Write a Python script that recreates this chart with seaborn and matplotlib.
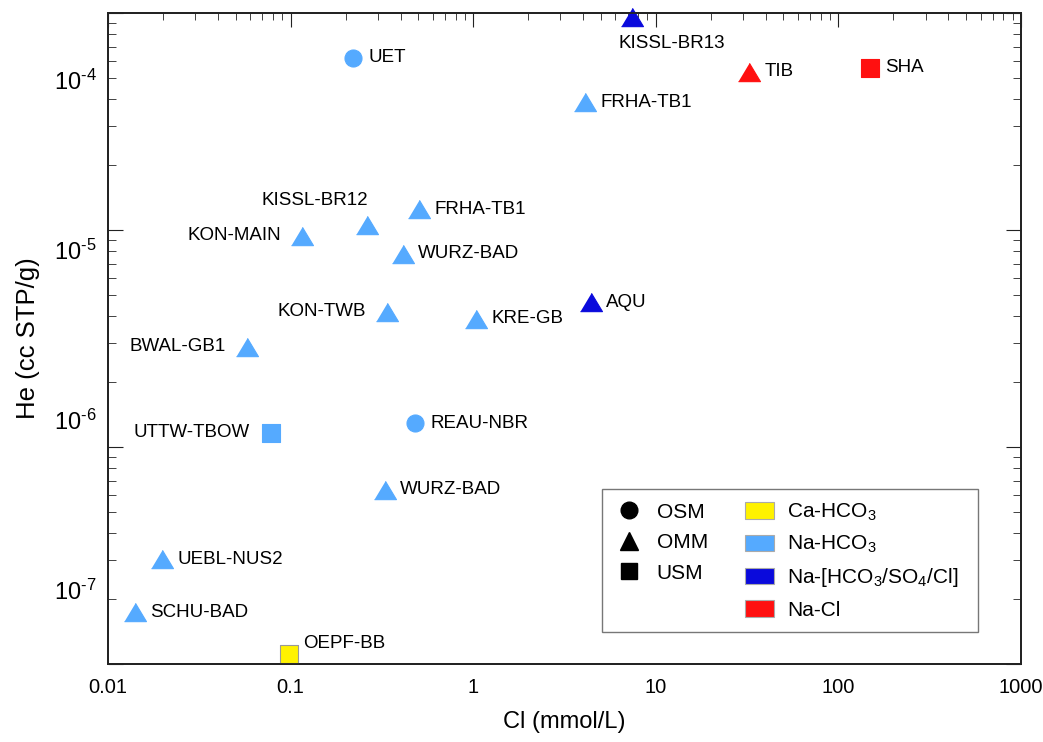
import matplotlib
matplotlib.use("Agg")
import matplotlib.pyplot as plt
import matplotlib.ticker as mticker
from matplotlib.lines import Line2D
from matplotlib.patches import Patch
import pandas as pd
import seaborn as sns

# Data
sites = ["UET", "KISSL-BR13", "TIB", "SHA", "FRHA-TB1", "FRHA-TB1", "KISSL-BR12",
         "KON-MAIN", "WURZ-BAD", "AQU", "KON-TWB", "KRE-GB", "BWAL-GB1", "UTTW-TBOW",
         "REAU-NBR", "WURZ-BAD", "UEBL-NUS2", "SCHU-BAD", "OEPF-BB"]
cl = [0.22, 7.4, 32.4, 149, 4.1, 0.505, 0.262,
      0.115, 0.413, 4.42, 0.337, 1.04, 0.0577, 0.0782,
      0.48, 0.329, 0.0198, 0.0141, 0.098]
he = [1.35e-4, 2.35e-4, 1.12e-4, 1.18e-4, 7.4e-5, 1.74e-5, 1.40e-5,
      1.21e-5, 9.5e-6, 4.94e-6, 4.32e-6, 3.93e-6, 2.69e-6, 8.4e-7,
      9.6e-7, 3.88e-7, 1.52e-7, 7.4e-8, 4.2e-8]
aquifer = ["OSM", "OMM", "OMM", "USM", "OMM", "OMM", "OMM",
           "OMM", "OMM", "OMM", "OMM", "OMM", "OMM", "USM",
           "OSM", "OMM", "OMM", "OMM", "USM"]
water_type = ["Na-HCO3", "Na-mix", "Na-Cl", "Na-Cl", "Na-HCO3", "Na-HCO3", "Na-HCO3",
              "Na-HCO3", "Na-HCO3", "Na-mix", "Na-HCO3", "Na-HCO3", "Na-HCO3", "Na-HCO3",
              "Na-HCO3", "Na-HCO3", "Na-HCO3", "Na-HCO3", "Ca-HCO3"]
# where each site label sits relative to its marker
label_side = ["r", "below", "r", "r", "r", "r", "above",
              "l", "r", "r", "l", "r", "l", "l",
              "r", "r", "r", "r", "ur"]

df = pd.DataFrame({"site": sites, "cl": cl, "he": he, "aquifer": aquifer,
                   "type": water_type, "side": label_side})

type_colors = {"Ca-HCO3": "#FFF200", "Na-HCO3": "#55AAFF",
               "Na-mix": "#0A0ADC", "Na-Cl": "#FF1010"}
type_labels = {"Ca-HCO3": r"Ca-HCO$_3$", "Na-HCO3": r"Na-HCO$_3$",
               "Na-mix": r"Na-[HCO$_3$/SO$_4$/Cl]  ", "Na-Cl": "Na-Cl"}
tri = [(-1.2, -1.0), (1.2, -1.0), (0.0, 1.0)]
shapes = {"OSM": ("o", 150), "OMM": (tri, 250), "USM": ("s", 165)}

sns.set_style("white")
plt.rcParams["font.family"] = ["Liberation Sans", "DejaVu Sans"]
plt.rcParams["mathtext.fontset"] = "custom"
plt.rcParams["mathtext.rm"] = "Liberation Sans"
plt.rcParams["mathtext.it"] = "Liberation Sans"
plt.rcParams["text.color"] = "black"
plt.rcParams["axes.labelcolor"] = "black"

fig = plt.figure(figsize=(10.43, 7.42), dpi=100)
ax = fig.add_axes([0.1035, 0.1051, 0.8755, 0.8774])

for grp, (mk, size) in shapes.items():
    sub = df[df["aquifer"] == grp]
    for wt, part in sub.groupby("type"):
        edge = "#999999" if wt == "Ca-HCO3" else type_colors[wt]
        sns.scatterplot(data=part, x="cl", y="he", color=type_colors[wt], marker=mk,
                        s=size, edgecolor=edge, linewidth=0.8, ax=ax, legend=False,
                        clip_on=False, zorder=5)

offsets = {"r": (11, 0, "left", "center"), "l": (-15, 0, "right", "center"),
           "above": (1, 18, "right", "center"), "below": (29, -19, "center", "center"),
           "ur": (10, 8, "left", "center")}
for _, row in df.iterrows():
    dx, dy, ha, va = offsets[row["side"]]
    ax.annotate(row["site"], (row["cl"], row["he"]), xytext=(dx, dy),
                textcoords="offset points", ha=ha, va=va, fontsize=13.5)

ax.set_xscale("log")
ax.set_yscale("log")
ax.set_xlim(0.01, 1000)
ax.set_ylim(10 ** -7.435, 10 ** -3.606)

ax.xaxis.set_major_locator(mticker.FixedLocator([0.01, 0.1, 1, 10, 100, 1000]))
ax.xaxis.set_major_formatter(mticker.FixedFormatter(["0.01", "0.1", "1", "10", "100", "1000"]))
ax.xaxis.set_minor_locator(mticker.LogLocator(base=10, subs=range(2, 10)))
ax.tick_params(axis="x", which="both", direction="in", top=True, colors="#222222",
               labelcolor="black", labelsize=14.5, pad=10)
ax.tick_params(axis="x", which="major", length=10)
ax.tick_params(axis="x", which="minor", length=5)

# y labels sit on their own spacing; tick marks come from the twin axis
ax.yaxis.set_major_locator(mticker.FixedLocator([1e-7, 1e-6, 1e-5, 1e-4]))
ax.yaxis.set_major_formatter(mticker.FixedFormatter(
    [r"$\mathregular{10^{\text{-}7}}$", r"$\mathregular{10^{\text{-}6}}$",
     r"$\mathregular{10^{\text{-}5}}$", r"$\mathregular{10^{\text{-}4}}$"]))
ax.yaxis.set_minor_locator(mticker.NullLocator())
ax.tick_params(axis="y", which="major", length=0, labelsize=17, labelcolor="black", pad=8)

ax2 = ax.twinx()
ax2.set_yscale("log")
ax2.set_ylim(1e-7, 1e-4)
ax2.yaxis.set_minor_locator(mticker.LogLocator(base=10, subs=range(2, 10)))
ax2.tick_params(axis="y", which="both", direction="in", left=True, right=True,
                labelleft=False, labelright=False, colors="#222222")
ax2.tick_params(axis="y", which="major", length=11)
ax2.tick_params(axis="y", which="minor", length=5.5)

for a in (ax, ax2):
    for sp in a.spines.values():
        sp.set_color("#222222")
        sp.set_linewidth(1.3)

ax.set_xlabel("Cl (mmol/L)", fontsize=17, labelpad=10)
ax.set_ylabel("He (cc STP/g)", fontsize=18.5, labelpad=10)

blank = Line2D([], [], linestyle="none")
handles = [Line2D([], [], linestyle="none", marker="o", color="black", markersize=12),
           Line2D([], [], linestyle="none", marker="^", color="black", markersize=13),
           Line2D([], [], linestyle="none", marker="s", color="black", markersize=12),
           blank]
labels = ["OSM", "OMM", "USM", ""]
for wt in ["Ca-HCO3", "Na-HCO3", "Na-mix", "Na-Cl"]:
    handles.append(Patch(facecolor=type_colors[wt], edgecolor="#AAAAAA", linewidth=0.8))
    labels.append(type_labels[wt])
leg = ax2.legend(handles, labels, ncol=2, loc="lower right",
                 bbox_to_anchor=(0.953, 0.049), fontsize=15, frameon=True,
                 fancybox=False, edgecolor="#555555", handlelength=1.35,
                 handleheight=0.85, handletextpad=0.65, columnspacing=1.8,
                 labelspacing=0.52, borderpad=0.6, borderaxespad=0)
for t in leg.get_texts():
    t.set_color("black")
leg.get_frame().set_linewidth(1.0)

fig.savefig("out.png", dpi=100)
